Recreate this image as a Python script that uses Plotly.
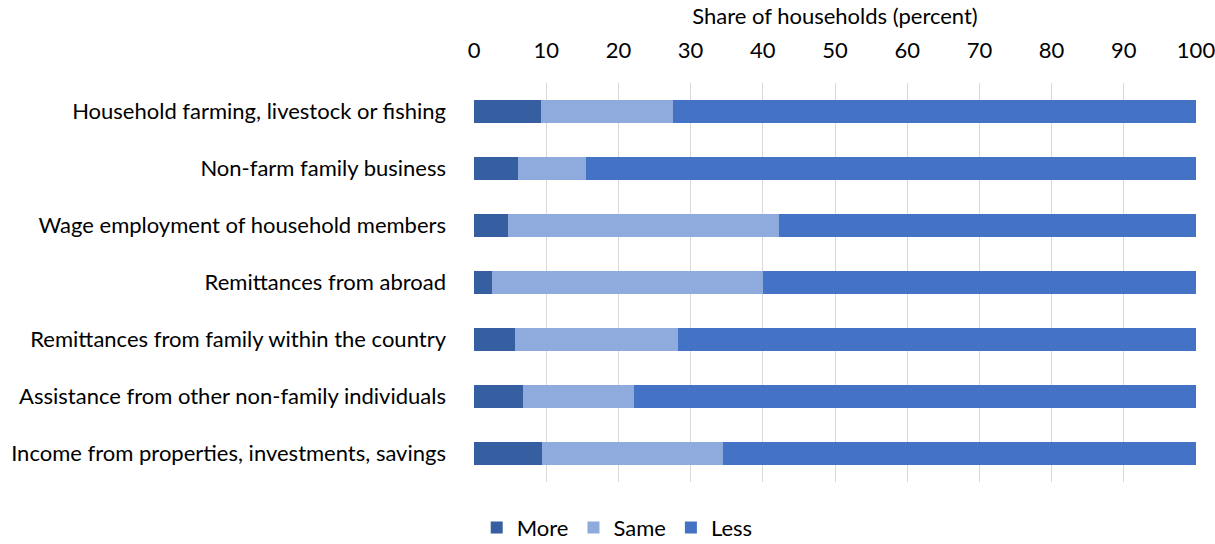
import plotly.graph_objects as go

categories = [
    "Household farming, livestock or fishing",
    "Non-farm family business",
    "Wage employment of household members",
    "Remittances from abroad",
    "Remittances from family within the country",
    "Assistance from other non-family individuals",
    "Income from properties, investments, savings",
]
more = [9.3, 6.1, 4.7, 2.5, 5.7, 6.8, 9.4]
same = [18.2, 9.4, 37.5, 37.5, 22.6, 15.3, 25.1]
less = [round(100 - m - s, 1) for m, s in zip(more, same)]

series_names = ["More", "Same", "Less"]
colors = ["#355FA0", "#8FAADC", "#4472C4"]
x_ticks = list(range(0, 101, 10))

font_family = "Lato, 'Open Sans', sans-serif"

fig = go.Figure()
for name, vals, col in zip(series_names, [more, same, less], colors):
    fig.add_trace(go.Bar(
        y=categories, x=vals, name=name, orientation="h",
        marker=dict(color=col, line=dict(width=0)),
    ))

fig.update_layout(
    barmode="stack",
    bargap=0.6,
    width=1215, height=544,
    margin=dict(l=474, r=19, t=83, b=62),
    paper_bgcolor="white", plot_bgcolor="white",
    font=dict(family=font_family, size=22, color="#000000"),
    xaxis=dict(
        side="top", range=[0, 100], tickvals=x_ticks, automargin=False,
        showgrid=True, gridcolor="#D9D9D9", gridwidth=1,
        zeroline=False, showline=False, ticks="",
        ticklabelstandoff=20, ticklabeloverflow="allow",
        title=dict(text="Share of households (percent)", standoff=4,
                   font=dict(size=22)),
        tickfont=dict(size=22),
    ),
    yaxis=dict(
        autorange="reversed", showgrid=False, ticks="", showline=False,
        automargin=False, ticklabelstandoff=27,
        tickfont=dict(size=22),
    ),
    legend=dict(
        orientation="h", xref="container", yref="container",
        x=0.508, xanchor="center", y=0.03, yanchor="middle",
        font=dict(size=22), itemwidth=30, traceorder="normal",
    ),
    showlegend=True,
)

# remove the default page margin so the 1215x544 figure fills the window exactly
fig.write_html(
    "out.html",
    config={"displayModeBar": False},
    post_script="document.body.style.margin='0';document.body.style.overflow='hidden';",
)
